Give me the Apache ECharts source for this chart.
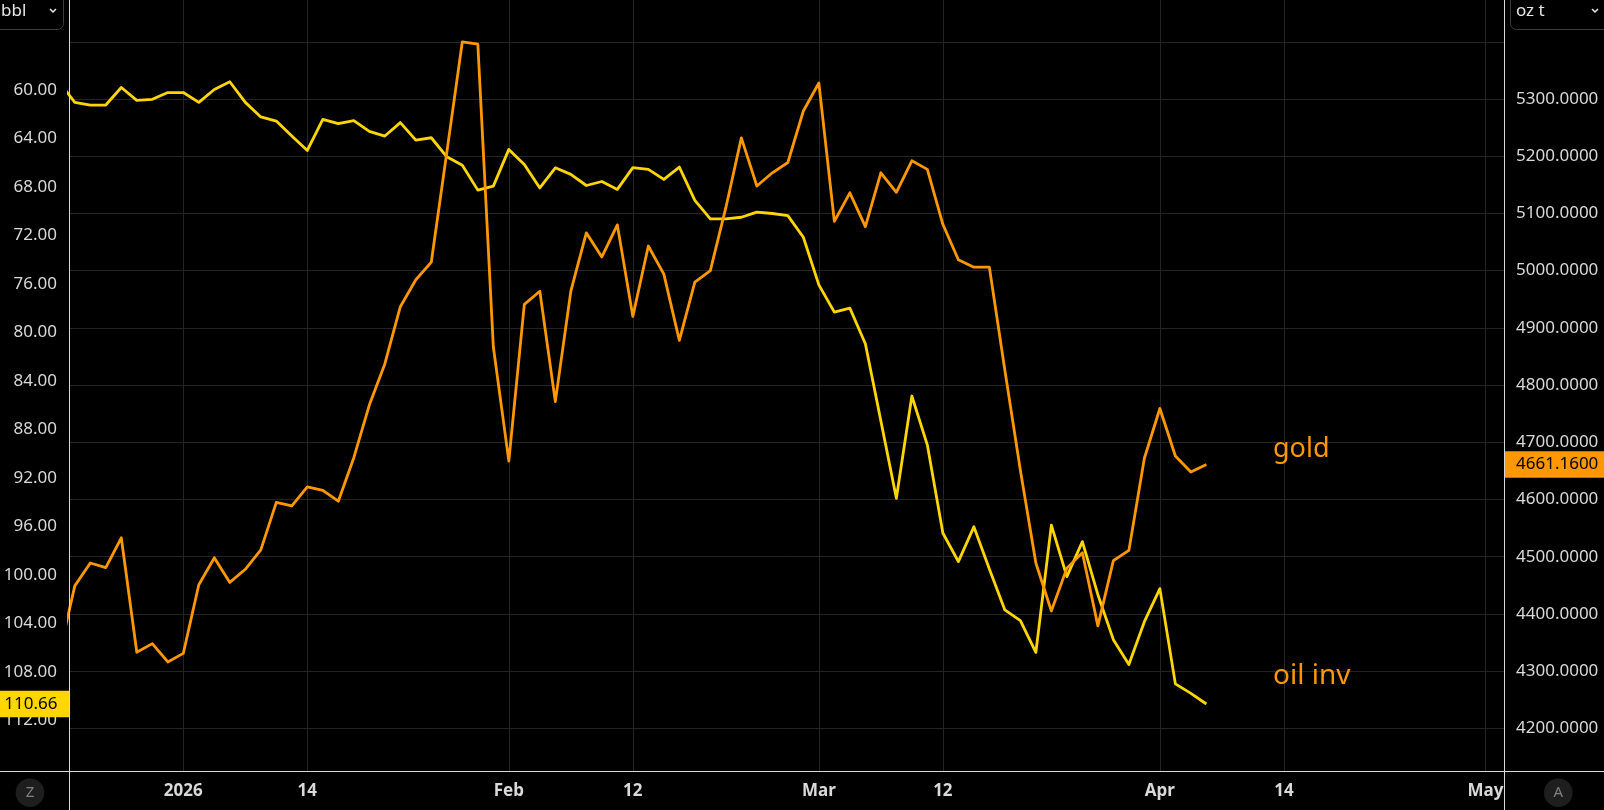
<!DOCTYPE html>
<html><head><meta charset="utf-8">
<script src="https://cdn.jsdelivr.net/npm/echarts@6/dist/echarts.min.js"></script>
<style>html,body{margin:0;padding:0;background:#000;}#c{width:1604px;height:810px;}</style>
</head><body><div id="c"></div>
<script>
// trading days shown on the time scale (Dec 19 2025 .. May 1 2026)
const dates = [
 '2025-12-19','2025-12-22','2025-12-23','2025-12-24','2025-12-26','2025-12-29','2025-12-30','2025-12-31',
 '2026-01-02','2026-01-05','2026-01-06','2026-01-07','2026-01-08','2026-01-09','2026-01-12','2026-01-13','2026-01-14','2026-01-15','2026-01-16',
 '2026-01-19','2026-01-20','2026-01-21','2026-01-22','2026-01-23','2026-01-26','2026-01-27','2026-01-28','2026-01-29','2026-01-30',
 '2026-02-02','2026-02-03','2026-02-04','2026-02-05','2026-02-06','2026-02-09','2026-02-10','2026-02-11','2026-02-12','2026-02-13',
 '2026-02-16','2026-02-17','2026-02-18','2026-02-19','2026-02-20','2026-02-23','2026-02-24','2026-02-25','2026-02-26','2026-02-27',
 '2026-03-02','2026-03-03','2026-03-04','2026-03-05','2026-03-06','2026-03-09','2026-03-10','2026-03-11','2026-03-12','2026-03-13',
 '2026-03-16','2026-03-17','2026-03-18','2026-03-19','2026-03-20','2026-03-23','2026-03-24','2026-03-25','2026-03-26','2026-03-27',
 '2026-03-30','2026-03-31',
 '2026-04-01','2026-04-02','2026-04-06','2026-04-07','2026-04-08','2026-04-09','2026-04-10','2026-04-13','2026-04-14','2026-04-15',
 '2026-04-16','2026-04-17','2026-04-20','2026-04-21','2026-04-22','2026-04-23','2026-04-24','2026-04-27','2026-04-28','2026-04-29','2026-04-30',
 '2026-05-01'
];
// oil (inverted scale, left axis, bbl)
const oilInv = [
 59.36, 61.02, 61.24, 61.24, 59.79, 60.85, 60.77, 60.21,
 60.21, 61.02, 59.96, 59.32, 61.02, 62.22, 62.56, 63.80, 64.99, 62.43, 62.77, 62.52, 63.41, 63.80, 62.69, 64.13, 63.94, 65.51, 66.20, 68.26, 67.93,
 64.90, 66.15, 68.08, 66.42, 66.96, 67.88, 67.55, 68.20, 66.40, 66.55, 67.38, 66.36, 69.10, 70.63, 70.63, 70.50, 70.08, 70.19, 70.36, 72.15,
 76.08, 78.33, 78.00, 80.94, 87.30, 93.69, 85.25, 89.30, 96.55, 98.91, 96.04, 99.53, 102.90, 103.78, 106.40, 95.90, 100.15, 97.26, 101.64, 105.35, 107.40, 103.87,
 101.14, 109.00, 109.78, 110.66
];
// gold (right axis, oz t)
const gold = [
 4330, 4449, 4489, 4481, 4533, 4333, 4348, 4316,
 4331, 4451, 4498, 4455, 4478, 4512, 4595, 4589, 4622, 4616, 4597, 4673, 4765, 4837, 4937, 4984, 5015, 5207, 5400, 5396, 4867,
 4667, 4941, 4964, 4771, 4964, 5066, 5024, 5080, 4920, 5043, 4994, 4878, 4980, 5000, 5110, 5232, 5148, 5171, 5189, 5279,
 5328, 5086, 5136, 5077, 5171, 5137, 5192, 5177, 5081, 5019, 5006, 5006, 4826, 4651, 4489, 4405, 4480, 4507, 4379, 4493, 4511, 4672,
 4759, 4676, 4648, 4661.16
];
const xTickDates = ['2026-01-02','2026-01-14','2026-02-02','2026-02-12','2026-03-02','2026-03-12','2026-04-01','2026-04-14','2026-05-01'];
const xTickLabels = ['2026','14','Feb','12','Mar','12','Apr','14','May'];
const leftTicks = [60,64,68,72,76,80,84,88,92,96,100,104,108,112];
const rightLabelTicks = [4200,4300,4400,4500,4600,4700,4800,4900,5000,5100,5200,5300];
const rightGridTicks = [4200,4300,4400,4500,4600,4700,4800,4900,5000,5100,5200,5300,5400];

const FONT = '"Noto Sans", "DejaVu Sans", sans-serif';
const LBL = '#d9d9d9';
const OIL_C = '#FFD600';
const GOLD_C = '#FF9800';

const xTickIdx = xTickDates.map(d => dates.indexOf(d));
const labelOf = {};
xTickIdx.forEach((ix, k) => { labelOf[ix] = xTickLabels[k]; });

const oilData = oilInv.map((v, i) => [i, v]);
const goldData = gold.map((v, i) => [i, v]);

const jan2 = dates.indexOf('2026-01-02');

const chart = echarts.init(document.getElementById('c'), null, {renderer: 'canvas'});
const option = {
  backgroundColor: '#000',
  animation: false,
  grid: {left: 69, right: 100, top: 0, bottom: 39, containLabel: false},
  xAxis: {
    type: 'value',
    min: jan2 - 7.374,
    max: jan2 + 85.2,
    axisLine: {show: false},
    axisTick: {show: false, customValues: xTickIdx},
    splitLine: {show: true, lineStyle: {color: '#242424', width: 1}},
    axisLabel: {
      customValues: xTickIdx,
      margin: 12,
      color: LBL,
      fontFamily: FONT,
      fontSize: 17,
      fontWeight: 'bold',
      formatter: v => labelOf[Math.round(v)] || ''
    }
  },
  yAxis: [
    {
      type: 'value', position: 'left', inverse: true,
      min: 52.574, max: 116.188,
      axisLine: {show: false}, axisTick: {show: false},
      splitLine: {show: false},
      axisLabel: {customValues: leftTicks, margin: 12, color: LBL, fontFamily: FONT, fontSize: 17,
        formatter: v => Number(v).toFixed(2)}
    },
    {
      type: 'value', position: 'right',
      min: 4125.4, max: 5473.05,
      axisLine: {show: false},
      axisTick: {show: false, customValues: rightGridTicks},
      splitLine: {show: true, lineStyle: {color: '#242424', width: 1}},
      axisLabel: {customValues: rightLabelTicks, margin: 12, color: LBL, fontFamily: FONT, fontSize: 17,
        formatter: v => Number(v).toFixed(4)}
    }
  ],
  series: [
    {name: 'oil inv', type: 'line', yAxisIndex: 0, data: oilData, showSymbol: false, symbol: 'none',
     clip: true, lineStyle: {color: OIL_C, width: 2.8, join: 'round'}, z: 3},
    {name: 'gold', type: 'line', yAxisIndex: 1, data: goldData, showSymbol: false, symbol: 'none',
     clip: true, lineStyle: {color: GOLD_C, width: 2.8, join: 'round'}, z: 4}
  ]
};
chart.setOption(option);

const lastOil = oilInv[oilInv.length - 1];
const lastGold = gold[gold.length - 1];
const yOil = chart.convertToPixel({yAxisIndex: 0}, lastOil);
const yGold = chart.convertToPixel({yAxisIndex: 1}, lastGold);

const AX = '#d9d9d9';
chart.setOption({
  graphic: [
    // frame lines
    {type: 'line', z: 50, shape: {x1: 0, y1: 771.5, x2: 1604, y2: 771.5}, style: {stroke: AX, lineWidth: 1}},
    {type: 'line', z: 50, shape: {x1: 69.5, y1: 0, x2: 69.5, y2: 810}, style: {stroke: AX, lineWidth: 1}},
    {type: 'line', z: 50, shape: {x1: 1504.5, y1: 0, x2: 1504.5, y2: 810}, style: {stroke: AX, lineWidth: 1}},
    // last value badges
    {type: 'rect', z: 60, shape: {x: 0, y: yOil - 13.3, width: 69, height: 26.6}, style: {fill: OIL_C}},
    {type: 'text', z: 61, x: 57.5, y: yOil, style: {text: lastOil.toFixed(2), fill: '#000', font: '17px ' + FONT, align: 'right', verticalAlign: 'middle'}},
    {type: 'rect', z: 60, shape: {x: 1505, y: yGold - 13.3, width: 99, height: 26.6}, style: {fill: GOLD_C}},
    {type: 'text', z: 61, x: 1516, y: yGold, style: {text: lastGold.toFixed(4), fill: '#000', font: '17px ' + FONT, align: 'left', verticalAlign: 'middle'}},
    // series name labels
    {type: 'text', z: 40, x: 1273, y: 449, style: {text: 'gold', fill: GOLD_C, font: '27px ' + FONT, align: 'left', verticalAlign: 'middle'}},
    {type: 'text', z: 40, x: 1273, y: 676, style: {text: 'oil inv', fill: GOLD_C, font: '28px ' + FONT, align: 'left', verticalAlign: 'middle'}},
    // unit buttons
    {type: 'rect', z: 55, shape: {x: -10, y: -10, width: 73.5, height: 39.5, r: 6}, style: {fill: '#000', stroke: '#3d3d3d', lineWidth: 1}},
    {type: 'text', z: 56, x: 1, y: 11.5, style: {text: 'bbl', fill: '#e6e6e6', font: '17px ' + FONT, align: 'left', verticalAlign: 'middle'}},
    {type: 'polyline', z: 56, shape: {points: [[50, 9], [53, 12], [56, 9]]}, style: {stroke: '#e6e6e6', lineWidth: 1.5, fill: null}},
    {type: 'rect', z: 55, shape: {x: 1510.5, y: -10, width: 110, height: 39.5, r: 6}, style: {fill: '#000', stroke: '#3d3d3d', lineWidth: 1}},
    {type: 'text', z: 56, x: 1516, y: 11.5, style: {text: 'oz t', fill: '#e6e6e6', font: '17px ' + FONT, align: 'left', verticalAlign: 'middle'}},
    {type: 'polyline', z: 56, shape: {points: [[1592, 9], [1595, 12], [1598, 9]]}, style: {stroke: '#e6e6e6', lineWidth: 1.5, fill: null}},
    // corner buttons
    {type: 'circle', z: 55, shape: {cx: 30, cy: 792.7, r: 14.3}, style: {fill: '#1e1e1e'}},
    {type: 'text', z: 56, x: 30, y: 793, style: {text: 'Z', fill: '#808080', font: '15px ' + FONT, align: 'center', verticalAlign: 'middle'}},
    {type: 'circle', z: 55, shape: {cx: 1558.3, cy: 792.7, r: 14.3}, style: {fill: '#1e1e1e'}},
    {type: 'text', z: 56, x: 1558.3, y: 793, style: {text: 'A', fill: '#808080', font: '15px ' + FONT, align: 'center', verticalAlign: 'middle'}}
  ]
});
</script>
</body></html>
